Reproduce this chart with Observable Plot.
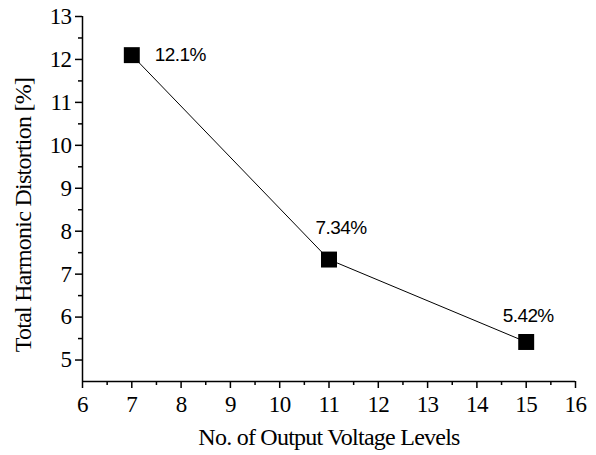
<!DOCTYPE html>
<html>
<head>
<meta charset="utf-8">
<script src="https://cdn.jsdelivr.net/npm/d3@7"></script>
<script src="https://cdn.jsdelivr.net/npm/@observablehq/plot@0.6"></script>
<style>
  body { margin: 0; background: #fff; }
</style>
</head>
<body>
<div id="chart"></div>
<script>
// THD versus number of output voltage levels
const levels = [7, 11, 15];
const thd = [12.1, 7.34, 5.42];
const valueLabels = ["12.1%", "7.34%", "5.42%"];

const xTicks = [6, 7, 8, 9, 10, 11, 12, 13, 14, 15, 16];
const xMinorTicks = [6.5, 7.5, 8.5, 9.5, 10.5, 11.5, 12.5, 13.5, 14.5, 15.5];
const yTicks = [5, 6, 7, 8, 9, 10, 11, 12, 13];
const yMinorTicks = [5.5, 6.5, 7.5, 8.5, 9.5, 10.5, 11.5, 12.5];

const xTitle = "No. of Output Voltage Levels";
const yTitle = "Total Harmonic Distortion [%]";

const rows = levels.map((x, i) => ({x, y: thd[i], label: valueLabels[i]}));

const serif = "'Liberation Serif', 'Times New Roman', serif";
const sans = "'Liberation Sans', Arial, sans-serif";

// each value label sits at its own offset from its marker
const labelMark = (i, opts) =>
  Plot.text([rows[i]], {
    x: "x", y: "y", text: "label",
    fontFamily: sans, fontSize: 19, fill: "black",
    className: "value-label",
    ...opts
  });

const chart = Plot.plot({
  width: 596,
  height: 455,
  marginLeft: 82,
  marginRight: 21,
  marginTop: 16,
  marginBottom: 74,
  style: `font-family: ${serif}; font-size: 23px; background: white; color: black; overflow: visible;`,
  x: {domain: [6, 16]},
  y: {domain: [4.5, 13]},
  marks: [
    // axis lines
    Plot.ruleX([6], {stroke: "black", strokeWidth: 1.5}),
    Plot.ruleY([4.5], {stroke: "black", strokeWidth: 1.5}),
    // major and minor ticks
    Plot.axisX({ticks: xTicks, tickSize: 7, tickPadding: 7, fontSize: 23,
                tickFormat: d => String(d), label: null, strokeWidth: 1.5}),
    Plot.axisX({ticks: xMinorTicks, tickSize: 4, text: null, label: null, strokeWidth: 1.5}),
    Plot.axisY({ticks: yTicks, tickSize: 7, tickPadding: 4, fontSize: 23,
                tickFormat: d => String(d), label: null, strokeWidth: 1.5}),
    Plot.axisY({ticks: yMinorTicks, tickSize: 4, text: null, label: null, strokeWidth: 1.5}),
    // axis titles
    Plot.text([xTitle], {text: d => d, frameAnchor: "bottom", dy: 56,
                         textAnchor: "middle", lineAnchor: "middle", fill: "black",
                         fontSize: 24, fontFamily: serif, className: "axis-title"}),
    Plot.text([yTitle], {text: d => d, frameAnchor: "left", rotate: -90, dx: -59, dy: 16,
                         textAnchor: "middle", lineAnchor: "middle", fill: "black",
                         fontSize: 24, fontFamily: serif, className: "axis-title"}),
    // series
    Plot.line(rows, {x: "x", y: "y", stroke: "black", strokeWidth: 1}),
    Plot.dot(rows, {x: "x", y: "y", symbol: "square", r: 9, fill: "black", stroke: "none"}),
    labelMark(0, {textAnchor: "start", dx: 23}),
    labelMark(1, {dx: 12, dy: -32}),
    labelMark(2, {dx: 2, dy: -26})
  ]
});

// typographic tweaks: serif tick labels, slightly condensed spacing
chart.querySelectorAll("g[aria-label*='tick label'] text").forEach(t => {
  t.style.fontFamily = serif;
  t.style.fontSize = "23px";
  t.style.letterSpacing = "-0.6px";
  t.style.fill = "#000";
});
chart.querySelectorAll("g.axis-title text").forEach(t => { t.style.letterSpacing = "-0.75px"; });
chart.querySelectorAll("g.value-label text").forEach(t => { t.style.letterSpacing = "-0.6px"; });

document.getElementById("chart").appendChild(chart);
</script>
</body>
</html>
